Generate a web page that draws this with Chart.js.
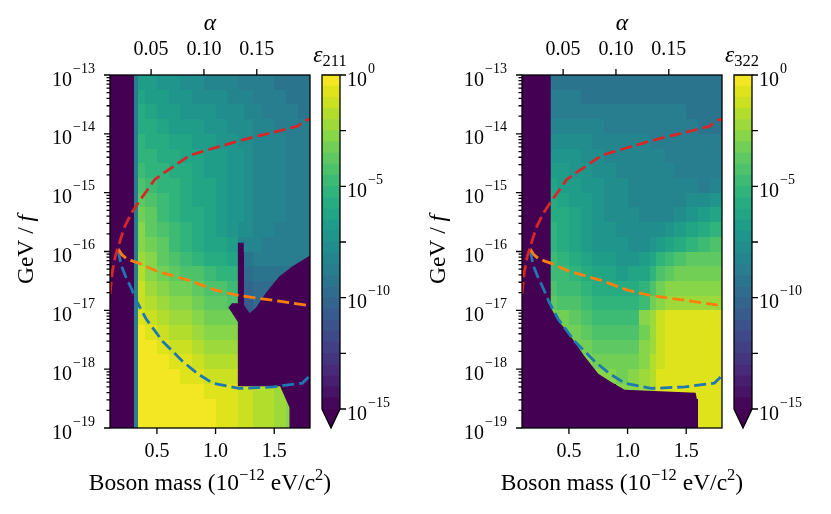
<!DOCTYPE html>
<html>
<head>
<meta charset="utf-8">
<script src="https://cdn.jsdelivr.net/npm/chart.js@4.4.1/dist/chart.umd.min.js"></script>
<style>
  html, body { margin: 0; padding: 0; background: #fff; }
  #wrap { position: relative; width: 831px; height: 514px; overflow: hidden; }
  #wrap canvas { position: absolute; top: 0; }
</style>
</head>
<body>
<div id="wrap">
  <canvas id="main1" width="340" height="514" style="left:0px"></canvas>
  <canvas id="cb1" width="110" height="514" style="left:310px"></canvas>
  <canvas id="main2" width="340" height="514" style="left:412px"></canvas>
  <canvas id="cb2" width="110" height="514" style="left:722px"></canvas>
</div>
<script>
// grid cells: mass edges (10^-12 eV/c^2) and log10(GeV/f) edges, top row first
const massEdges = [0.1, 0.2, 0.305, 0.34, 0.4, 0.5, 0.6, 0.7, 0.8, 0.9, 1.0, 1.1, 1.19, 1.24, 1.32, 1.4, 1.5, 1.6, 1.7, 1.805];
const logEdges = [-13, -13.25, -13.5, -13.75, -14, -14.25, -14.5, -14.75, -15, -15.25, -15.5, -15.75,
                  -16, -16.25, -16.5, -16.75, -17, -17.25, -17.5, -17.75, -18, -18.25, -18.5, -18.75, -19];

// log10(epsilon) per cell, D = below 1e-15
const D = null;
const eps211 = [
  [D, D, -9, -6.6, -6.9, -7.2, -7.5, -7.7, -7.9, -8.1, -8.3, -8.5, -8.6, -8.8, -8.9, -9.0, -9.1, -9.3, -9.5],
  [D, D, -9, -6.3, -6.6, -6.9, -7.2, -7.4, -7.6, -7.8, -8.0, -8.2, -8.3, -8.5, -8.7, -8.8, -9.0, -9.2, -9.4],
  [D, D, -9, -6.0, -6.3, -6.6, -6.9, -7.1, -7.3, -7.5, -7.7, -7.9, -8.0, -8.2, -8.4, -8.6, -8.8, -9.0, -9.2],
  [D, D, -9, -5.7, -6.0, -6.3, -6.6, -6.8, -7.0, -7.2, -7.4, -7.6, -7.8, -8.0, -8.2, -8.4, -8.6, -8.8, -9.0],
  [D, D, -9, -5.4, -5.7, -6.0, -6.3, -6.5, -6.7, -6.9, -7.2, -7.4, -7.6, -7.9, -8.1, -8.3, -8.5, -8.7, -8.9],
  [D, D, -9, -5.1, -5.4, -5.7, -6.0, -6.2, -6.5, -6.7, -7.0, -7.2, -7.5, -7.8, -8.1, -8.3, -8.5, -8.7, -8.9],
  [D, D, -9, -4.7, -5.1, -5.4, -5.7, -6.0, -6.3, -6.6, -6.9, -7.1, -7.4, -7.8, -8.1, -8.3, -8.5, -8.7, -8.9],
  [D, D, -9, -4.3, -4.8, -5.1, -5.5, -5.8, -6.2, -6.5, -6.8, -7.1, -7.4, -7.8, -8.1, -8.3, -8.5, -8.7, -8.9],
  [D, D, -9, -3.8, -4.4, -4.8, -5.3, -5.7, -6.1, -6.4, -6.8, -7.1, -7.4, -7.8, -8.1, -8.3, -8.5, -8.7, -8.9],
  [D, D, -9, -3.4, -4.0, -4.6, -5.1, -5.6, -6.0, -6.4, -6.8, -7.1, -7.5, -7.9, -8.1, -8.3, -8.5, -8.7, -8.9],
  [D, D, -9, -2.9, -3.7, -4.4, -5.0, -5.5, -6.0, -6.4, -6.8, -7.1, -7.6, -8.0, -8.2, -8.4, -8.6, -8.7, -8.9],
  [D, D, -9, -2.6, -3.4, -4.0, -4.6, -5.2, -5.7, -6.1, -6.5, -6.8, -8.5, -8.5, -8.5, -8.6, -8.7, -8.8, -9.0],
  [D, D, -9, -2.3, -3.0, -3.6, -4.2, -4.8, -5.2, -5.6, -6.0, -6.3, D, -9.5, -9.0, -8.9, -8.9, -9.0, -9.0],
  [D, D, -9, -1.9, -2.6, -3.1, -3.6, -4.1, -4.5, -4.8, -5.2, -5.5, D, -10.0, -9.3, -9.2, -9.2, -9.2, D],
  [D, D, -9, -1.5, -2.2, -2.7, -3.1, -3.5, -3.9, -4.2, -4.5, -4.8, D, -10.5, -9.6, -9.6, -9.4, D, D],
  [D, D, -9, -1.1, -1.8, -2.3, -2.7, -3.0, -3.3, -3.6, -3.9, -4.1, D, -11.0, -10.0, -9.8, D, D, D],
  [D, D, -9, -0.6, -1.3, -1.8, -2.2, -2.5, -2.8, -3.1, -3.3, -3.4, D, -11.0, -10.2, D, D, D, D],
  [D, D, -9, -0.3, -0.8, -1.3, -1.7, -2.0, -2.3, -2.6, -2.8, -3.0, D, D, D, D, D, D, D],
  [D, D, -9, -0.3, -0.3, -0.8, -1.2, -1.5, -1.8, -2.1, -2.3, -2.5, D, D, D, D, D, D, D],
  [D, D, -9, -0.3, -0.3, -0.3, -0.7, -1.0, -1.3, -1.6, -1.8, -2.0, D, D, D, D, D, D, D],
  [D, D, -9, -0.3, -0.3, -0.3, -0.3, -0.6, -0.8, -1.1, -1.3, -1.5, D, D, D, D, D, D, D],
  [D, D, -9, -0.3, -0.3, -0.3, -0.3, -0.3, -0.4, -0.6, -0.7, -1.0, -1.2, -1.4, -1.7, -2.0, -2.5, -2.7, D],
  [D, D, -9, -0.3, -0.3, -0.3, -0.3, -0.3, -0.3, -0.4, -0.7, -1.0, -1.2, -1.4, -1.7, -2.0, -2.5, -2.7, D],
  [D, D, -9, -0.3, -0.3, -0.3, -0.3, -0.3, -0.3, -0.4, -0.7, -1.0, -1.2, -1.4, -1.7, -2.0, -2.5, -2.7, D]
];
const eps322 = [
  [D, D, D, -9.3, -9.3, -9.3, -9.4, -9.4, -9.4, -9.4, -9.4, -9.4, -9.4, -9.4, -9.4, -9.4, -9.4, -9.4, -9.4],
  [D, D, D, -9.0, -9.0, -9.0, -9.1, -9.1, -9.1, -9.2, -9.2, -9.2, -9.2, -9.2, -9.2, -9.2, -9.3, -9.3, -9.3],
  [D, D, D, -8.6, -8.6, -8.7, -8.7, -8.8, -8.8, -8.9, -8.9, -9.0, -9.0, -9.0, -9.0, -9.0, -9.1, -9.2, -9.2],
  [D, D, D, -8.2, -8.2, -8.3, -8.4, -8.5, -8.6, -8.6, -8.7, -8.7, -8.8, -8.8, -8.8, -8.9, -9.0, -9.1, -9.1],
  [D, D, D, -7.8, -7.8, -7.9, -8.0, -8.2, -8.3, -8.4, -8.5, -8.5, -8.6, -8.6, -8.7, -8.8, -8.9, -9.0, -9.0],
  [D, D, D, -7.3, -7.4, -7.5, -7.7, -7.9, -8.1, -8.2, -8.3, -8.4, -8.4, -8.5, -8.6, -8.7, -8.8, -9.0, -9.0],
  [D, D, D, -6.8, -7.0, -7.2, -7.4, -7.7, -7.9, -8.1, -8.2, -8.3, -8.3, -8.4, -8.5, -8.6, -8.7, -8.9, -8.9],
  [D, D, D, -6.3, -6.6, -6.9, -7.2, -7.5, -7.8, -8.0, -8.1, -8.2, -8.3, -8.4, -8.5, -8.5, -8.5, -8.6, -8.4],
  [D, D, D, -5.9, -6.2, -6.6, -7.0, -7.4, -7.7, -7.9, -8.1, -8.2, -8.3, -8.4, -8.4, -8.3, -8.0, -7.8, -7.4],
  [D, D, D, -5.6, -5.9, -6.4, -6.9, -7.3, -7.6, -7.8, -8.0, -8.1, -8.2, -8.2, -8.1, -7.8, -7.3, -6.8, -6.3],
  [D, D, D, -5.4, -5.8, -6.3, -6.8, -7.2, -7.5, -7.7, -7.9, -8.0, -8.0, -7.8, -7.5, -7.0, -6.4, -5.8, -5.2],
  [D, D, D, -5.3, -5.7, -6.2, -6.8, -7.2, -7.4, -7.5, -7.6, -7.6, -7.5, -7.0, -6.5, -6.0, -5.5, -5.0, -4.3],
  [D, D, D, -5.0, -5.4, -5.8, -6.3, -6.7, -7.0, -7.1, -7.1, -6.8, -6.2, -5.4, -4.8, -4.4, -4.0, -3.9, -3.7],
  [D, D, D, -4.6, -5.0, -5.4, -5.8, -6.2, -6.4, -6.6, -6.5, -6.1, -5.4, -4.4, -3.8, -3.5, -3.3, -3.2, -3.1],
  [D, D, D, -4.2, -4.6, -5.0, -5.3, -5.6, -5.9, -6.0, -5.9, -5.4, -4.4, -3.4, -3.0, -2.9, -2.8, -2.7, -2.6],
  [D, D, D, -3.7, -4.1, -4.5, -4.8, -5.1, -5.3, -5.4, -5.3, -4.6, -3.4, -2.6, -2.5, -2.5, -2.4, -2.3, -2.3],
  [D, D, D, -3.3, -3.5, -4.0, -4.3, -4.6, -4.8, -4.9, -4.6, -2.6, -2.2, -1.4, -0.7, -0.7, -0.7, -0.7, -0.7],
  [D, D, D, D, -3.2, -3.4, -3.8, -4.1, -4.3, -4.4, -4.1, -3.4, -2.3, -1.2, -0.7, -0.7, -0.7, -0.7, -0.7],
  [D, D, D, D, D, -3.1, -3.2, -3.6, -3.8, -3.9, -3.6, -3.0, -2.1, -1.1, -0.7, -0.7, -0.7, -0.7, -0.7],
  [D, D, D, D, D, D, -3.0, -3.1, -3.4, -3.5, -3.2, -2.7, -1.9, -1.1, -0.7, -0.7, -0.7, -0.7, -0.7],
  [D, D, D, D, D, D, D, -2.9, -3.0, -3.1, -2.9, -2.5, -1.8, -1.0, -0.7, -0.7, -0.7, -0.7, -0.7],
  [D, D, D, D, D, D, D, D, D, -2.8, -2.6, -2.3, -1.7, -1.0, -0.7, -0.7, -0.7, -0.7, -0.7],
  [D, D, D, D, D, D, D, D, D, D, D, D, D, D, D, D, D, -0.7, -0.7],
  [D, D, D, D, D, D, D, D, D, D, D, D, D, D, D, D, D, -0.7, -0.7]
];

// outlines of the below-range (dark) regions: mass and log10(GeV/f)
const dark211Mass = [1.19, 1.24, 1.24, 1.29, 1.345, 1.43, 1.54, 1.65, 1.805, 1.805, 1.63, 1.63, 1.55, 1.19, 1.19, 1.11, 1.14, 1.19];
const dark211Log = [-15.85, -15.85, -16.9, -17.05, -16.95, -16.7, -16.43, -16.26, -16.07, -19, -19, -18.65, -18.29, -18.29, -17.2, -16.95, -16.88, -16.88];
const dark322Mass = [0.1, 0.345, 0.345, 0.4, 0.5, 0.63, 0.75, 0.86, 0.975, 1.58, 1.6, 1.6, 0.1];
const dark322Log = [-13, -13, -16.95, -17.15, -17.4, -17.77, -18.08, -18.22, -18.35, -18.4, -18.6, -19, -19];

// dashed curves
const redMass = [0.10, 0.12, 0.145, 0.17, 0.22, 0.28, 0.35, 0.42, 0.48, 0.55, 0.63, 0.78, 0.90, 1.06, 1.20, 1.35, 1.50, 1.70, 1.75, 1.805];
const redGeV = [1.9e-17, 4.5e-17, 8.3e-17, 1.2e-16, 2.5e-16, 4.4e-16, 7.2e-16, 1.12e-15, 1.66e-15, 2.1e-15, 2.7e-15, 4.3e-15, 5.1e-15, 6.3e-15, 7.6e-15, 9.1e-15, 1.07e-14, 1.35e-14, 1.66e-14, 1.78e-14];
const orangeMass = [0.17, 0.20, 0.24, 0.30, 0.35, 0.49, 0.78, 1.00, 1.20, 1.49, 1.805];
const orangeGeV = [1.1e-16, 8.9e-17, 7.6e-17, 6.8e-17, 6.3e-17, 4.7e-17, 3.2e-17, 2.2e-17, 1.78e-17, 1.48e-17, 1.2e-17];
const blueMass = [0.17, 0.194, 0.24, 0.28, 0.336, 0.407, 0.55, 0.72, 0.85, 0.975, 1.2, 1.49, 1.74, 1.785, 1.805];
const blueGeV = [1.05e-16, 5.9e-17, 3.5e-17, 2.4e-17, 1.32e-17, 7.2e-18, 2.95e-18, 1.35e-18, 8.3e-19, 5.8e-19, 4.7e-19, 5.0e-19, 5.8e-19, 7.1e-19, 7.9e-19];

// axes
const massMin = 0.1, massMax = 1.805;
const massTicks = [0.5, 1.0, 1.5];
const alphaPerMass = 0.111;
const alphaTicks = [0.05, 0.10, 0.15];
const decadeExps = [-19, -18, -17, -16, -15, -14, -13];
const minorSteps = [2, 3, 4, 5, 6, 7, 8, 9];
const cbLevels = [-15, -14.5, -14, -13.5, -13, -12.5, -12, -11.5, -11, -10.5, -10, -9.5, -9, -8.5, -8, -7.5,
                  -7, -6.5, -6, -5.5, -5, -4.5, -4, -3.5, -3, -2.5, -2, -1.5, -1, -0.5, 0];
const cbTicks = [-15, -12.5, -10, -7.5, -5, -2.5, 0];

const SERIF = '"Liberation Serif", "DejaVu Serif", serif';
const TICK_FONT = '20px ' + SERIF, TICK_SUP = '14px ' + SERIF;
const LABEL_FONT = '23.5px ' + SERIF, LABEL_IT = 'italic 23.5px ' + SERIF, LABEL_SUP = '16.5px ' + SERIF;
Chart.defaults.font.family = SERIF;
Chart.defaults.color = '#000';

const VIRIDIS = ['#440154', '#48186a', '#472d7b', '#424086', '#3b528b', '#33638d', '#2c728e', '#26828e', '#21918c',
                 '#1fa088', '#28ae80', '#3fbc73', '#5ec962', '#84d44b', '#addc30', '#d8e219', '#fde725'];
function hexRgb(h) { return [1, 3, 5].map(i => parseInt(h.slice(i, i + 2), 16)); }
function viridis(t) {
  t = Math.max(0, Math.min(1, t));
  const p = t * (VIRIDIS.length - 1), i = Math.min(Math.floor(p), VIRIDIS.length - 2), f = p - i;
  const a = hexRgb(VIRIDIS[i]), b = hexRgb(VIRIDIS[i + 1]);
  return 'rgb(' + a.map((v, k) => Math.round(v + (b[k] - v) * f)).join(',') + ')';
}
function bandColor(v) {
  if (v === null || v < -15) return VIRIDIS[0];
  const n = cbLevels.length - 1;
  const i = Math.min(n - 1, Math.floor((v + 15) / 0.5));
  return viridis((i + 0.5) / n);
}

function supText(n) { return (n < 0 ? '\u2212' : '') + Math.abs(n); }

// draws "10^exp" with a raised exponent
function drawPow(ctx, exp, x, y, align) {
  ctx.font = TICK_FONT;
  const wb = ctx.measureText('10').width;
  ctx.font = TICK_SUP;
  const sup = supText(exp), ws = ctx.measureText(sup).width;
  const x0 = align === 'right' ? x - wb - ws - 1 : x;
  ctx.textAlign = 'left';
  ctx.textBaseline = 'alphabetic';
  ctx.fillStyle = '#000';
  ctx.font = TICK_FONT;
  ctx.fillText('10', x0, y + 10.5);
  ctx.font = TICK_SUP;
  ctx.fillText(sup, x0 + wb + 1, y - 2.5);
}

// draws text parts [{t, font, dy}] centred at x
function drawParts(ctx, parts, x, y) {
  let w = 0;
  parts.forEach(p => { ctx.font = p.font; p.w = ctx.measureText(p.t).width; w += p.w; });
  let cx = x - w / 2;
  ctx.textAlign = 'left';
  ctx.textBaseline = 'alphabetic';
  ctx.fillStyle = '#000';
  parts.forEach(p => { ctx.font = p.font; ctx.fillText(p.t, cx, y + (p.dy || 0)); cx += p.w; });
}

function logTicks() {
  const out = [];
  decadeExps.forEach(e => {
    out.push({ value: Math.pow(10, e), major: true, exp: e });
    if (e < -13) minorSteps.forEach(m => out.push({ value: m * Math.pow(10, e), major: false }));
  });
  return out;
}

const heatPlugin = {
  id: 'heat',
  beforeDatasetsDraw(chart, args, opts) {
    const { ctx, chartArea: a, scales: { x, y } } = chart;
    ctx.save();
    ctx.beginPath();
    ctx.rect(a.left, a.top, a.right - a.left, a.bottom - a.top);
    ctx.clip();
    opts.grid.forEach((row, k) => {
      const y0 = Math.round(y.getPixelForValue(Math.pow(10, logEdges[k])));
      const y1 = Math.round(y.getPixelForValue(Math.pow(10, logEdges[k + 1])));
      row.forEach((v, j) => {
        const x0 = Math.round(x.getPixelForValue(massEdges[j]));
        const x1 = Math.round(x.getPixelForValue(massEdges[j + 1]));
        ctx.fillStyle = bandColor(v);
        ctx.fillRect(x0, y0, x1 - x0, y1 - y0);
      });
    });
    // below-range region outline
    ctx.fillStyle = bandColor(null);
    ctx.beginPath();
    opts.darkMass.forEach((m, i) => {
      const px = x.getPixelForValue(m), py = y.getPixelForValue(Math.pow(10, opts.darkLog[i]));
      if (i === 0) ctx.moveTo(px, py); else ctx.lineTo(px, py);
    });
    ctx.closePath();
    ctx.fill();
    ctx.restore();
  }
};

const axesPlugin = {
  id: 'axesDeco',
  afterDraw(chart) {
    const { ctx, chartArea: a, scales } = chart;
    const xs = scales.x, xt = scales.xTop, ys = scales.y;
    ctx.save();
    ctx.strokeStyle = '#000';
    ctx.lineWidth = 1.3;
    ctx.beginPath();
    xs.ticks.forEach(t => { const p = xs.getPixelForValue(t.value); ctx.moveTo(p, a.bottom); ctx.lineTo(p, a.bottom + 6); });
    xt.ticks.forEach(t => { const p = xt.getPixelForValue(t.value); ctx.moveTo(p, a.top); ctx.lineTo(p, a.top - 6); });
    ys.ticks.forEach(t => {
      const p = ys.getPixelForValue(t.value);
      ctx.moveTo(a.left, p); ctx.lineTo(a.left - (t.major ? 6 : 3.5), p);
    });
    ctx.stroke();
    ctx.strokeRect(a.left, a.top, a.right - a.left, a.bottom - a.top);
    ys.ticks.filter(t => t.major).forEach(t => drawPow(ctx, t.exp, a.left - 15, ys.getPixelForValue(t.value), 'right'));
    // y title
    ctx.save();
    ctx.translate(33, (a.top + a.bottom) / 2 - 2);
    ctx.rotate(-Math.PI / 2);
    drawParts(ctx, [{ t: 'GeV / ', font: LABEL_FONT }, { t: 'f', font: LABEL_IT }], 0, 0);
    ctx.restore();
    // x title
    drawParts(ctx, [
      { t: 'Boson mass (10', font: LABEL_FONT },
      { t: '\u221212', font: LABEL_SUP, dy: -10 },
      { t: ' eV/c', font: LABEL_FONT },
      { t: '2', font: LABEL_SUP, dy: -10 },
      { t: ')', font: LABEL_FONT }
    ], (a.left + a.right) / 2, 490);
    ctx.restore();
  }
};

const cbPlugin = {
  id: 'cbDeco',
  afterDraw(chart, args, opts) {
    const { ctx, chartArea: a, scales: { y } } = chart;
    const yb = y.getPixelForValue(cbLevels[0]);
    const tip = yb + 19, mid = (a.left + a.right) / 2;
    ctx.save();
    ctx.fillStyle = bandColor(null);
    ctx.beginPath();
    ctx.moveTo(a.left, yb); ctx.lineTo(a.right, yb); ctx.lineTo(mid, tip); ctx.closePath();
    ctx.fill();
    ctx.strokeStyle = '#000';
    ctx.lineWidth = 1.3;
    ctx.beginPath();
    ctx.moveTo(a.left, a.top); ctx.lineTo(a.right, a.top); ctx.lineTo(a.right, yb);
    ctx.lineTo(mid, tip); ctx.lineTo(a.left, yb); ctx.closePath();
    ctx.stroke();
    ctx.beginPath();
    y.ticks.forEach(t => { const p = y.getPixelForValue(t.value); ctx.moveTo(a.right, p); ctx.lineTo(a.right + 6, p); });
    ctx.stroke();
    y.ticks.filter(t => t.value % 5 === 0).forEach(t => drawPow(ctx, t.value, a.right + 7, y.getPixelForValue(t.value), 'left'));
    drawParts(ctx, [
      { t: '\u03b5', font: LABEL_IT },
      { t: opts.sub, font: LABEL_SUP, dy: 4 }
    ], mid - 1, 62);
    ctx.restore();
  }
};

function lineSet(mass, gev, color) {
  return {
    data: mass.map((m, i) => ({ x: m, y: gev[i] })),
    showLine: true, borderColor: color, backgroundColor: color,
    borderWidth: 2.8, borderDash: [12, 5], pointRadius: 0, tension: 0,
    xAxisID: 'x', yAxisID: 'y'
  };
}

function makeMain(id, grid, darkMass, darkLog) {
  return new Chart(document.getElementById(id), {
    type: 'scatter',
    data: {
      datasets: [
        lineSet(redMass, redGeV, '#d62728'),
        lineSet(orangeMass, orangeGeV, '#ff7f0e'),
        lineSet(blueMass, blueGeV, '#1f77b4')
      ]
    },
    options: {
      responsive: false,
      animation: false,
      events: [],
      layout: { padding: { left: 0, right: 30, top: 0, bottom: 0 } },
      plugins: {
        legend: { display: false }, tooltip: { enabled: false },
        heat: { grid: grid, darkMass: darkMass, darkLog: darkLog }
      },
      scales: {
        x: {
          type: 'linear', position: 'bottom', min: massMin, max: massMax,
          afterBuildTicks: s => { s.ticks = massTicks.map(v => ({ value: v })); },
          afterFit: s => { s.height = 86; },
          grid: { display: false, drawTicks: false }, border: { display: false },
          ticks: { padding: 12, autoSkip: false, maxRotation: 0, font: { size: 20 }, color: '#000', callback: v => v.toFixed(1) }
        },
        xTop: {
          axis: 'x', type: 'linear', position: 'top',
          min: massMin * alphaPerMass, max: massMax * alphaPerMass,
          afterBuildTicks: s => { s.ticks = alphaTicks.map(v => ({ value: v })); },
          afterFit: s => { s.height = 75; },
          grid: { display: false, drawTicks: false }, border: { display: false },
          ticks: { padding: 13, autoSkip: false, maxRotation: 0, font: { size: 20 }, color: '#000', callback: v => v.toFixed(2) },
          title: { display: true, text: '\u03b1', font: { size: 23.5, style: 'italic' }, color: '#000', padding: { top: 10, bottom: 0 } }
        },
        y: {
          type: 'logarithmic', position: 'left', min: 1e-19, max: 1e-13,
          afterBuildTicks: s => { s.ticks = logTicks(); },
          afterFit: s => { s.width = 110; },
          grid: { display: false, drawTicks: false }, border: { display: false },
          ticks: { display: false }
        }
      }
    },
    plugins: [heatPlugin, axesPlugin]
  });
}

function makeColorbar(id, sub) {
  return new Chart(document.getElementById(id), {
    type: 'bar',
    data: {
      labels: [''],
      datasets: cbLevels.slice(0, -1).map((lo, i) => ({
        data: [[lo, cbLevels[i + 1]]],
        backgroundColor: bandColor(lo + 0.25),
        borderWidth: 0, barPercentage: 1, categoryPercentage: 1, grouped: false
      }))
    },
    options: {
      responsive: false,
      animation: false,
      events: [],
      layout: { padding: { left: 12, right: 0, top: 75, bottom: 105 } },
      plugins: { legend: { display: false }, tooltip: { enabled: false }, cbDeco: { sub: sub } },
      scales: {
        x: { display: false },
        y: {
          type: 'linear', position: 'right', min: cbLevels[0], max: cbLevels[cbLevels.length - 1],
          afterBuildTicks: s => { s.ticks = cbTicks.map(v => ({ value: v })); },
          afterFit: s => { s.width = 80; },
          grid: { display: false, drawTicks: false }, border: { display: false },
          ticks: { display: false }
        }
      }
    },
    plugins: [cbPlugin]
  });
}

makeMain('main1', eps211, dark211Mass, dark211Log);
makeColorbar('cb1', '211');
makeMain('main2', eps322, dark322Mass, dark322Log);
makeColorbar('cb2', '322');
</script>
</body>
</html>
